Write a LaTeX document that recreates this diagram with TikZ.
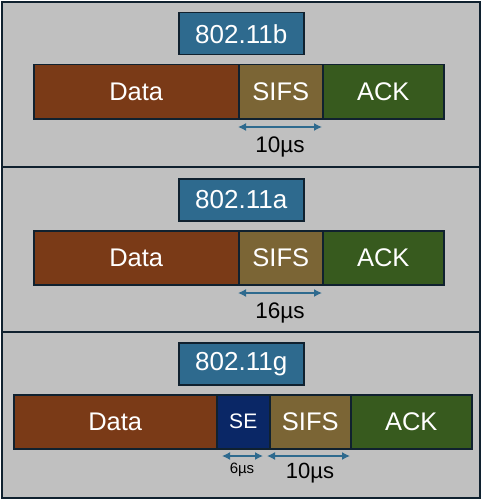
\documentclass[tikz,border=0pt]{standalone}
\usepackage{fontspec}
\setmainfont{Liberation Sans}
\usetikzlibrary{arrows.meta}
\definecolor{bg}{HTML}{C0C0C0}
\definecolor{edge}{HTML}{10212F}
\definecolor{ttl}{HTML}{2E6A8E}
\definecolor{datac}{HTML}{7A3A17}
\definecolor{sifsc}{HTML}{7B6535}
\definecolor{ackc}{HTML}{375A1E}
\definecolor{sec}{HTML}{0A2766}
\definecolor{arr}{HTML}{2E6A8E}
\begin{document}
\begin{tikzpicture}[x=1pt,y=-1pt,
  panel/.style={draw=edge,fill=bg,line width=2pt,anchor=north west,inner sep=0pt},
  seg/.style={draw=edge,line width=1.5pt,anchor=north west,inner sep=0pt,text=white,font=\fontsize{25.5}{30}\selectfont},
  title/.style={seg,fill=ttl,font=\fontsize{26}{30}\selectfont},
  dur/.style={draw=arr,line width=1.4pt,{Latex[length=8pt,width=8pt]}-{Latex[length=8pt,width=8pt]}},
  lab/.style={font=\fontsize{22.5}{26}\selectfont,text=black,inner sep=0pt}]
\useasboundingbox (0,0) rectangle (480,500);
% panels
\node[panel,minimum width=478pt,minimum height=165pt] (p1) at (1,1) {};
\node[panel,minimum width=478pt,minimum height=165pt] (p2) at (1,166) {};
\node[panel,minimum width=478pt,minimum height=166pt] (p3) at (1,331) {};
% panel 1
\node[title,minimum width=125pt,minimum height=42pt] (t1) at (178,12) {802.11b};
\node[seg,fill=datac,minimum width=205pt,minimum height=54pt] (d1) at (33,64) {Data};
\node[seg,fill=sifsc,minimum width=84pt,minimum height=54pt] (s1) at (238,64) {SIFS};
\node[seg,fill=ackc,minimum width=121pt,minimum height=54pt] (a1) at (322,64) {ACK};
\coordinate (l1) at (238,127); \coordinate (r1) at (322,127);
\draw[dur] (l1) -- (r1);
\node[lab] (u1) at (280,147) {10µs};
% panel 2
\node[title,minimum width=125pt,minimum height=42pt] (t2) at (178,178) {802.11a};
\node[seg,fill=datac,minimum width=205pt,minimum height=54pt] (d2) at (33,230) {Data};
\node[seg,fill=sifsc,minimum width=84pt,minimum height=54pt] (s2) at (238,230) {SIFS};
\node[seg,fill=ackc,minimum width=121pt,minimum height=54pt] (a2) at (322,230) {ACK};
\coordinate (l2) at (238,293); \coordinate (r2) at (322,293);
\draw[dur] (l2) -- (r2);
\node[lab] (u2) at (280,313) {16µs};
% panel 3
\node[title,minimum width=125pt,minimum height=42pt] (t3) at (178,342) {802.11g};
\node[seg,fill=datac,minimum width=203pt,minimum height=54pt] (d3) at (13,394) {Data};
\node[seg,fill=sec,minimum width=53pt,minimum height=54pt,font=\fontsize{21}{25}\selectfont] (e3) at (216,394) {SE};
\node[seg,fill=sifsc,minimum width=81pt,minimum height=54pt] (s3) at (269,394) {SIFS};
\node[seg,fill=ackc,minimum width=121pt,minimum height=54pt] (a3) at (350,394) {ACK};
\coordinate (l3) at (222,456); \coordinate (r3) at (263,456);
\draw[dur] (l3) -- (r3);
\coordinate (l4) at (267,456); \coordinate (r4) at (350,456);
\draw[dur] (l4) -- (r4);
\node[lab,font=\fontsize{15}{18}\selectfont] (u3) at (242,470) {6µs};
\node[lab,font=\fontsize{22}{25}\selectfont] (u4) at (310,473) {10µs};
\end{tikzpicture}
\end{document}
